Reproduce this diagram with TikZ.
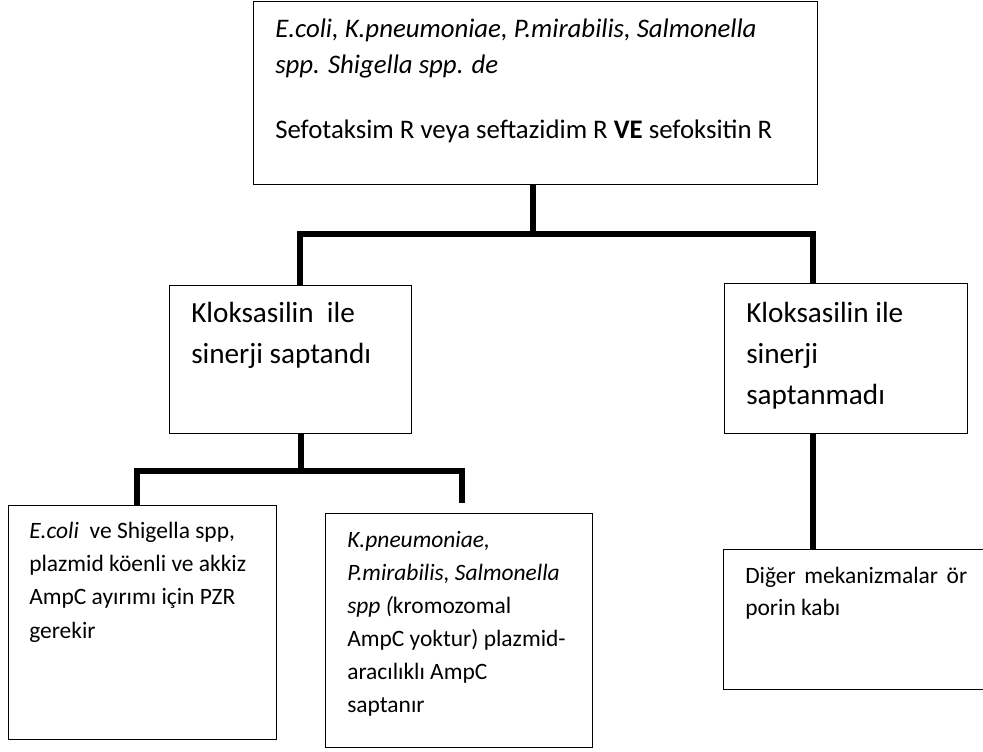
\documentclass[tikz,border=0pt]{standalone}
\usepackage{fontspec}
\setmainfont{Carlito}
\begin{document}
\begin{tikzpicture}[x=0.75pt,y=-0.75pt]
  \tikzstyle{box}=[draw, line width=1.1pt, anchor=north west, inner sep=0pt]
  \tikzstyle{txt}=[anchor=base west, inner sep=0pt, align=flush left, text width=210pt]
  \tikzstyle{link}=[line width=4.5pt]
  \tikzstyle{small}=[font=\fontsize{17.6}{24.75}\selectfont]
  \useasboundingbox (0,0) rectangle (983,751);
  % boxes
  \node[box, minimum width=423pt, minimum height=137.25pt] (top) at (253,1) {};
  \node[box, minimum width=181.5pt, minimum height=111pt] (kl) at (169,285) {};
  \node[box, minimum width=182.25pt, minimum height=112.5pt] (kr) at (724,283) {};
  \node[box, minimum width=201pt, minimum height=175.5pt] (bl) at (8,505) {};
  \node[box, minimum width=200.25pt, minimum height=175.5pt] (bm) at (325,513) {};
  \node[box, minimum width=225pt, minimum height=105pt] (br) at (723,549) {};
  % texts
  \node[txt, text width=420pt, font=\fontsize{20.1}{27}\selectfont] (top-t) at (275,37)
    {\textit{E.coli, K.pneumoniae, P.mirabilis, Salmonella}\\
     \textit{spp. Shigella spp. de}\\[21.75pt]
     Sefotaksim R veya seftazidim R \textbf{VE} sefoksitin R};
  \node[txt, font=\fontsize{21.9}{30.75}\selectfont] (kl-t) at (191,322)
    {Kloksasilin\ \ ile\\ sinerji saptandı};
  \node[txt, font=\fontsize{21.9}{30.75}\selectfont] (kr-t) at (746,322)
    {Kloksasilin ile\\ sinerji\\ saptanmadı};
  \node[txt, small, font=\fontsize{17.6}{25}\selectfont] (bl-t) at (29,538)
    {\textit{E.coli}\ \ ve Shigella spp,\\ plazmid köenli ve akkiz\\
     AmpC ayırımı için PZR\\ gerekir};
  \node[txt, small] (bm-t) at (347,547)
    {\textit{K.pneumoniae,}\\ \textit{P.mirabilis, Salmonella}\\
     \textit{spp (}kromozomal\\ AmpC yoktur) plazmid-\\ aracılıklı AmpC\\ saptanır};
  \node[txt, small, font=\fontsize{17.6}{24}\selectfont] (br-t) at (745,583)
    {\makebox[166.5pt][s]{Diğer mekanizmalar ör}\\ porin kabı};
  % connectors
  \coordinate (bar) at (533,234);
  \coordinate (j1) at (300,234);
  \coordinate (jr) at (813,234);
  \coordinate (bar2) at (301,471);
  \coordinate (jl) at (137,471);
  \coordinate (jm) at (462,471);
  \draw[link] (top.south -| bar) to (bar);
  \draw[link] (kl.north -| j1) |- (bar) -| (kr.north -| jr);
  \draw[link] (kr.south -| jr) to (br.north -| jr);
  \draw[link] (kl.south -| bar2) to (bar2);
  \draw[link, shorten >=7.5pt] (bl.north -| jl) |- (bar2) -| (bm.north -| jm);
\end{tikzpicture}
\end{document}
